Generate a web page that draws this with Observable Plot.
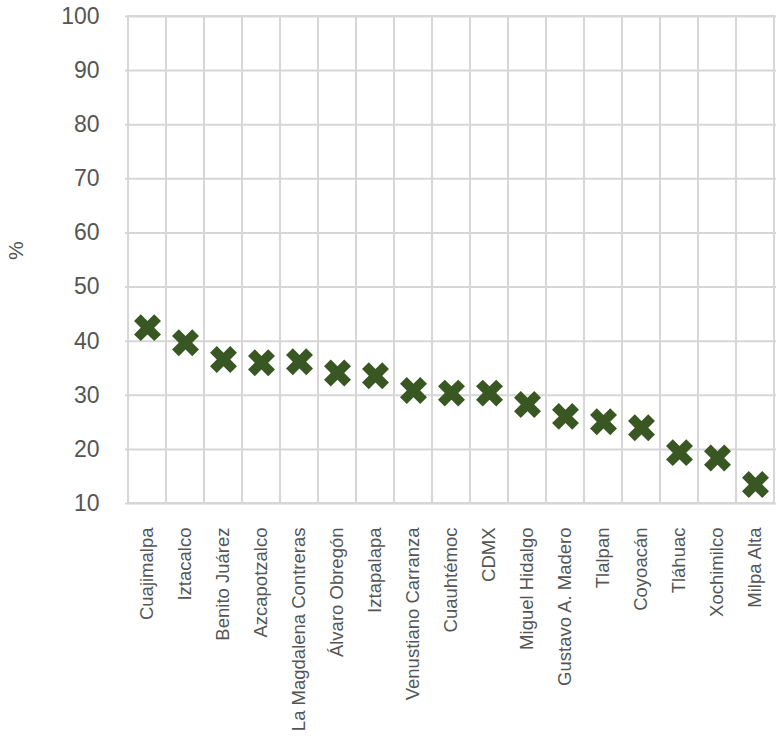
<!DOCTYPE html>
<html><head><meta charset="utf-8">
<script src="https://cdn.jsdelivr.net/npm/d3@7"></script>
<script src="https://cdn.jsdelivr.net/npm/@observablehq/plot@0.6"></script>
<style>body{margin:0;background:#fff}</style>
</head><body><div id="chart"></div>
<script>
const categories = ["Cuajimalpa","Iztacalco","Benito Juárez","Azcapotzalco","La Magdalena Contreras","Álvaro Obregón","Iztapalapa","Venustiano Carranza","Cuauhtémoc","CDMX","Miguel Hidalgo","Gustavo A. Madero","Tlalpan","Coyoacán","Tláhuac","Xochimilco","Milpa Alta"];
const values = [42.5, 39.7, 36.6, 36.0, 36.2, 34.1, 33.6, 30.9, 30.4, 30.4, 28.3, 26.1, 25.1, 24.0, 19.4, 18.4, 13.5];
const yTicks = [10, 20, 30, 40, 50, 60, 70, 80, 90, 100];
const yLabel = "%";

const data = categories.map((c, i) => ({alcaldia: c, value: values[i]}));

// filled "X" marker (plus rotated 45°)
const xFilled = {
  draw(context, size) {
    const r = Math.sqrt(size / Math.PI), u = r / 3, c = Math.SQRT1_2;
    const pts = [[-1,-3],[1,-3],[1,-1],[3,-1],[3,1],[1,1],[1,3],[-1,3],[-1,1],[-3,1],[-3,-1],[-1,-1]];
    pts.forEach(([x, y], i) => {
      const X = (x - y) * c * u, Y = (x + y) * c * u;
      i ? context.lineTo(X, Y) : context.moveTo(X, Y);
    });
    context.closePath();
  }
};

const grid = "#d6d6d6";
const chart = Plot.plot({
  width: 777,
  height: 738,
  marginLeft: 125,
  marginRight: 1,
  marginTop: 16,
  marginBottom: 235,
  x: {type: "band", domain: categories, padding: 0},
  y: {domain: [10, 100]},
  style: {fontFamily: "'Liberation Sans', Arial, sans-serif", background: "#fff"},
  marks: [
    Plot.barY(categories, {x: d => d, y1: 10, y2: 100, fill: "none", stroke: grid, strokeWidth: 2}),
    Plot.gridY(yTicks, {stroke: grid, strokeWidth: 2, strokeOpacity: 1}),
    Plot.axisY(yTicks, {tickSize: 0, tickPadding: 26, fontSize: 23, color: "#555", label: null}),
    Plot.axisX({tickRotate: -90, tickSize: 0, tickPadding: 24, fontSize: 18.5, color: "#555", label: null}),
    Plot.dot(data, {x: "alcaldia", y: "value", symbol: xFilled, r: 14.3, fill: "#385723", stroke: "none"}),
    Plot.text([yLabel], {frameAnchor: "left", text: d => d, rotate: -90, dx: -109, fontSize: 21, fill: "#555"})
  ]
});
document.getElementById("chart").appendChild(chart);
</script>
</body></html>
